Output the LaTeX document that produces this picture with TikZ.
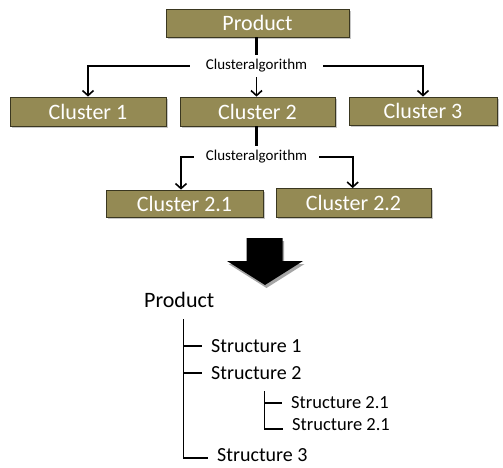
\documentclass[tikz,border=0pt]{standalone}
\usepackage{fontspec}
\setmainfont{Carlito}
\usetikzlibrary{arrows.meta,shadows}
\definecolor{boxfill}{HTML}{948A54}
\definecolor{boxline}{HTML}{3A3720}
\begin{document}
\begin{tikzpicture}[x=1pt,y=-1pt,
  box/.style={draw=boxline,line width=0.8pt,fill=boxfill,text=white,
    font=\fontsize{22}{24}\selectfont,minimum height=28pt,inner sep=0pt,
    drop shadow={shadow xshift=1.6pt,shadow yshift=-1.6pt,fill=black,opacity=0.22}},
  algo/.style={font=\fontsize{15}{17}\selectfont,inner ysep=4.5pt,
    text height=10pt,text depth=3pt},
  conn/.style={line width=1.6pt,-{Straight Barb[length=5pt,width=11pt,line width=1.6pt]}},
  stem/.style={line width=2.6pt},
  treeline/.style={line width=1.6pt},
  leaf/.style={anchor=west,inner xsep=9pt,inner ysep=0pt,font=\fontsize{20}{22}\selectfont},
  subleaf/.style={anchor=west,inner xsep=9pt,inner ysep=0pt,font=\fontsize{18.5}{20}\selectfont},
]
\useasboundingbox (0,0) rectangle (503,468);

% clustering boxes
\node[box,minimum width=183pt] (prod) at (257.5,23) {Product};
\node[box,minimum width=156pt,minimum height=29pt] (c1) at (88,111.5) {Cluster 1};
\node[box,minimum width=155pt,minimum height=29pt] (c2) at (257.5,111.5) {Cluster 2};
\node[box,minimum width=148pt] (c3) at (423,111) {Cluster 3};
\node[box,minimum width=157pt,minimum height=27pt] (c21) at (184.5,203.5) {Cluster 2.1};
\node[box,minimum width=155pt,minimum height=29pt] (c22) at (353.5,203) {Cluster 2.2};

% first split
\node[algo,inner xsep=16pt] (ca1) at (256.5,66) {Clusteralgorithm};
\draw[stem] (ca1.north |- prod.south) -- (ca1.north);
\draw[conn] (ca1.west) -| (c1.north);
\draw[conn] (ca1.east) -| (c3.north);
\draw[conn] (ca1.south) -- (ca1.south |- c2.north);

% second split
\node[algo,inner xsep=12pt] (ca2) at (256.5,157) {Clusteralgorithm};
\draw[stem] (ca2.north |- c2.south) -- (ca2.north);
\draw[conn] (ca2.west) -| ([xshift=-3.5pt]c21.north);
\draw[conn] (ca2.east) -| ([xshift=-0.8pt]c22.north);

% transition arrow
\fill[black,drop shadow={shadow xshift=1.5pt,shadow yshift=-3pt,fill=black,opacity=0.35}]
  (246.5,238) -- (282.5,238) -- (282.5,261) -- (303,261) -- (265,285)
  -- (227,261) -- (246.5,261) -- cycle;

% resulting structure tree
\node[anchor=west,inner sep=0pt,font=\fontsize{22}{24}\selectfont] (root) at (144,300) {Product};
\coordinate (trunk) at (183.5,319);
\node[leaf] (s1) at (202,346) {Structure 1};
\node[leaf] (s2) at (202,373) {Structure 2};
\coordinate (subtrunk) at (264.5,391);
\node[subleaf] (s21) at (282,403) {Structure 2.1};
\node[subleaf] (s22) at (283,424.5) {Structure 2.1};
\node[leaf] (s3) at (208,455.5) {Structure 3};

\draw[treeline] (trunk) |- ([yshift=-2.5pt]s3.west);
\draw[treeline] (trunk |- s1.west) -- (s1.west);
\draw[treeline] (trunk |- s2.west) -- (s2.west);
\draw[treeline] (subtrunk) |- ([yshift=-4.5pt]s22.west);
\draw[treeline] (subtrunk |- s21.west) -- (s21.west);
\end{tikzpicture}
\end{document}
